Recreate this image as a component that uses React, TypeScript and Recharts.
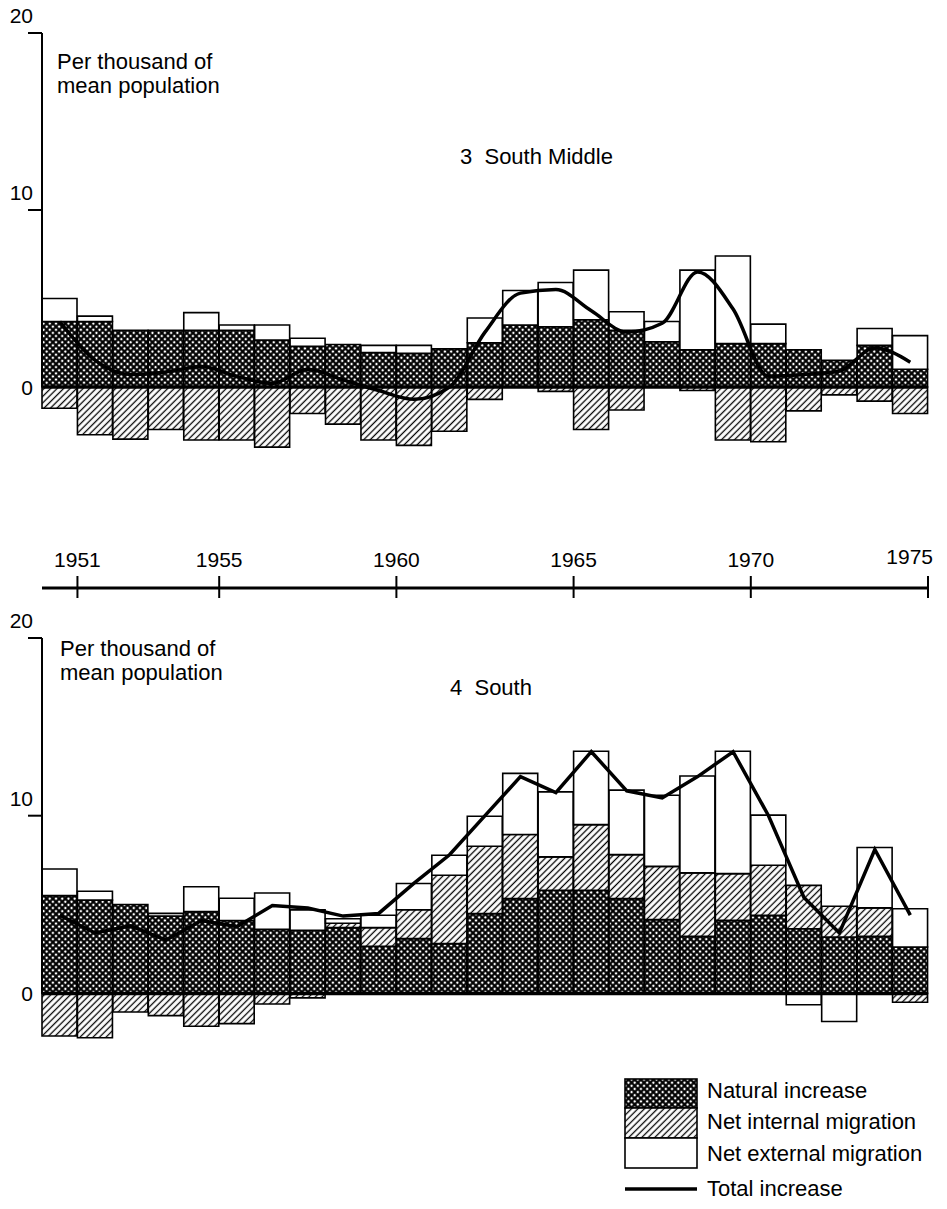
import React from 'react';
import { ComposedChart, Bar, Line, XAxis, YAxis, ReferenceLine } from 'recharts';

// Bars are one-year intervals: 1950-51 ... 1974-75
const years = ['1950','1951','1952','1953','1954','1955','1956','1957','1958','1959','1960','1961','1962','1963','1964','1965','1966','1967','1968','1969','1970','1971','1972','1973','1974'];
// year marks sit at the end of the interval that precedes them
const yearTicks = [1951, 1955, 1960, 1965, 1970, 1975];
const valueTicks = [0, 10, 20];

// 3 South Middle
const smNatural = [3.7, 3.7, 3.2, 3.2, 3.2, 3.2, 2.65, 2.3, 2.4, 1.95, 1.9, 2.15, 2.5, 3.5, 3.4, 3.8, 3.2, 2.55, 2.1, 2.45, 2.45, 2.1, 1.5, 2.35, 1.0];
const smInternal = [-1.2, -2.7, -2.95, -2.4, -3.0, -3.0, -3.4, -1.5, -2.1, -3.0, -3.3, -2.5, -0.7, 0, -0.25, -2.4, -1.3, 0, -0.2, -3.0, -3.1, -1.35, -0.45, -0.8, -1.5];
const smExternal = [1.3, 0.3, 0, 0, 1.0, 0.3, 0.85, 0.45, 0, 0.4, 0.45, 0, 1.4, 1.95, 2.5, 2.8, 1.05, 1.15, 4.5, 4.95, 1.1, 0, 0, 0.95, 1.9];
const smTotal = [3.7, 1.5, 0.7, 0.85, 1.15, 0.6, 0.2, 1.0, 0.4, -0.2, -0.7, 0.0, 3.1, 5.3, 5.5, 4.3, 3.1, 3.6, 6.5, 4.4, 0.6, 0.7, 0.9, 2.2, 1.4];

// 4 South
const sNatural = [5.5, 5.25, 5.0, 4.35, 4.6, 4.1, 3.6, 3.55, 3.7, 2.65, 3.08, 2.8, 4.49, 5.33, 5.8, 5.8, 5.33, 4.15, 3.21, 4.11, 4.39, 3.64, 3.17, 3.21, 2.61];
const sInternal = [-2.4, -2.5, -1.05, -1.25, -1.85, -1.7, -0.6, -0.25, 0.25, 1.05, 1.63, 3.85, 3.79, 3.61, 1.88, 3.7, 2.48, 3.0, 3.57, 2.63, 2.82, 2.44, 1.73, 1.6, -0.5];
const sExternal = [1.5, 0.5, 0, 0.15, 1.4, 1.25, 2.05, 1.15, 0.25, 0.7, 1.47, 1.12, 1.69, 3.44, 3.66, 4.13, 3.63, 4.0, 5.45, 6.89, 2.82, -0.64, -1.58, 3.4, 2.15];
const sTotal = [4.4, 3.4, 3.8, 3.0, 4.1, 3.75, 4.95, 4.8, 4.35, 4.5, 6.2, 7.8, 10.0, 12.2, 11.3, 13.6, 11.4, 11.0, 12.2, 13.6, 10.0, 5.4, 3.4, 8.1, 4.4];

const legendLabels = ['Natural increase', 'Net internal migration', 'Net external migration', 'Total increase'];

const FONT = '"Liberation Sans", Arial, sans-serif';
const FS = 21;
const FSW = 22;

const rows = (nat: number[], int: number[], ext: number[], tot: number[]) =>
  years.map((y, i) => ({ year: y, natural: nat[i], internal: int[i], external: ext[i], total: tot[i] }));

const smRows = rows(smNatural, smInternal, smExternal, smTotal);
const sRows = rows(sNatural, sInternal, sExternal, sTotal);

// interval (category) whose right edge carries each year mark
const tickCats = yearTicks.map((t) => years[years.indexOf(String(t)) >= 0 ? years.indexOf(String(t)) - 1 : years.length - 1]);

const YTick = (props: any) => {
  const { x, y, payload } = props;
  const v = payload.value;
  if (v === 0) {
    return (
      <text x={x - 9} y={y + 8} textAnchor="end" fontSize={FS} fontFamily={FONT} fill="#000">0</text>
    );
  }
  return (
    <g>
      <line x1={x - 14} x2={x} y1={y} y2={y} stroke="#000" strokeWidth={2} />
      <text x={x - 9} y={y - 10} textAnchor="end" fontSize={FS} fontFamily={FONT} fill="#000">{v}</text>
    </g>
  );
};

const YearTick = (props: any) => {
  const { x, y, payload } = props;
  const idx = tickCats.indexOf(payload.value);
  if (idx < 0) return <g />;
  const label = yearTicks[idx];
  const last = idx === yearTicks.length - 1;
  const ex = x + (payload.offset || 0);
  return (
    <g>
      <line x1={ex} x2={ex} y1={y - 12} y2={y + 10} stroke="#000" strokeWidth={2} />
      <text x={last ? ex + 5 : ex} y={last ? y - 24 : y - 21} textAnchor={last ? 'end' : 'middle'} fontSize={FS} fontFamily={FONT} fill="#000">{label}</text>
    </g>
  );
};

const Patterns = ({ p }: { p: string }) => (
  <defs>
    <pattern id={`${p}cross`} width={4.4} height={4.4} patternUnits="userSpaceOnUse" patternTransform="rotate(45)">
      <rect width={4.4} height={4.4} fill="#fff" />
      <path d="M0,2.2 H4.4 M2.2,0 V4.4" stroke="#000" strokeWidth={2.2} />
    </pattern>
    <pattern id={`${p}hatch`} width={4.6} height={4.6} patternUnits="userSpaceOnUse" patternTransform="rotate(45)">
      <rect width={4.6} height={4.6} fill="#fff" />
      <path d="M2.3,0 V4.6" stroke="#000" strokeWidth={1.3} />
    </pattern>
  </defs>
);

const Panel = ({ data, p, height, margin, domain, showYears, curve }: any) => (
  <ComposedChart width={947} height={height} data={data} margin={margin} barCategoryGap={0} barGap={0} stackOffset="sign">
    <Patterns p={p} />
    <XAxis
      dataKey="year"
      hide={!showYears}
      ticks={tickCats}
      interval={0}
      height={1}
      tickSize={0}
      tickMargin={0}
      tickLine={false}
      axisLine={{ stroke: '#000', strokeWidth: 3 }}
      tick={YearTick}
    />
    <YAxis
      width={42}
      domain={domain}
      allowDataOverflow
      ticks={valueTicks}
      interval={0}
      tickSize={0}
      tickMargin={0}
      axisLine={false}
      tickLine={false}
      tick={YTick}
    />
    <Bar dataKey="natural" stackId="s" fill={`url(#${p}cross)`} stroke="#000" strokeWidth={1.6} isAnimationActive={false} />
    <Bar dataKey="internal" stackId="s" fill={`url(#${p}hatch)`} stroke="#000" strokeWidth={1.6} isAnimationActive={false} />
    <Bar dataKey="external" stackId="s" fill="#fff" stroke="#000" strokeWidth={1.6} isAnimationActive={false} />
    <ReferenceLine y={0} stroke="#000" strokeWidth={3.5} />
    <ReferenceLine segment={[{ x: '1950', y: 0 }, { x: '1950', y: 20 }]} position="start" ifOverflow="visible" stroke="#000" strokeWidth={2} />
    <Line dataKey="total" type={curve} stroke="#000" strokeWidth={3.5} dot={false} activeDot={false} isAnimationActive={false} />
  </ComposedChart>
);

const txt = { fontSize: FSW, fontFamily: FONT, fill: '#000' } as const;

export default function App() {
  return (
    <div style={{ position: 'absolute', left: 0, top: 0, width: 947, height: 1209, background: '#fff' }}>
      <div style={{ position: 'absolute', left: 0, top: 0 }}>
        <Panel data={smRows} p="a" height={600} margin={{ top: 33, right: 19, bottom: 11, left: 0 }} domain={[-11.36, 20]} showYears curve="monotone" />
      </div>
      <div style={{ position: 'absolute', left: 0, top: 600 }}>
        <Panel data={sRows} p="b" height={500} margin={{ top: 38, right: 19, bottom: 0, left: 0 }} domain={[-6, 20]} showYears={false} curve="linear" />
      </div>
      <svg width={947} height={1209} style={{ position: 'absolute', left: 0, top: 0, pointerEvents: 'none' }}>
        <Patterns p="l" />
        <text x={57} y={69} {...txt}>Per thousand of</text>
        <text x={57} y={93} {...txt}>mean population</text>
        <text x={460} y={164} {...txt} xmlSpace="preserve">3  South Middle</text>
        <text x={60} y={656} {...txt}>Per thousand of</text>
        <text x={60} y={680} {...txt}>mean population</text>
        <text x={450} y={695} {...txt} xmlSpace="preserve">4  South</text>

        <rect x={625} y={1079} width={72} height={29} fill="url(#lcross)" stroke="#000" strokeWidth={1.6} />
        <rect x={625} y={1108} width={72} height={30} fill="url(#lhatch)" stroke="#000" strokeWidth={1.6} />
        <rect x={625} y={1138} width={72} height={30} fill="#fff" stroke="#000" strokeWidth={1.6} />
        <line x1={625} x2={697} y1={1189} y2={1189} stroke="#000" strokeWidth={3.5} />
        <text x={707} y={1098} {...txt}>{legendLabels[0]}</text>
        <text x={707} y={1129} {...txt}>{legendLabels[1]}</text>
        <text x={707} y={1161} {...txt}>{legendLabels[2]}</text>
        <text x={707} y={1196} {...txt}>{legendLabels[3]}</text>
      </svg>
    </div>
  );
}
